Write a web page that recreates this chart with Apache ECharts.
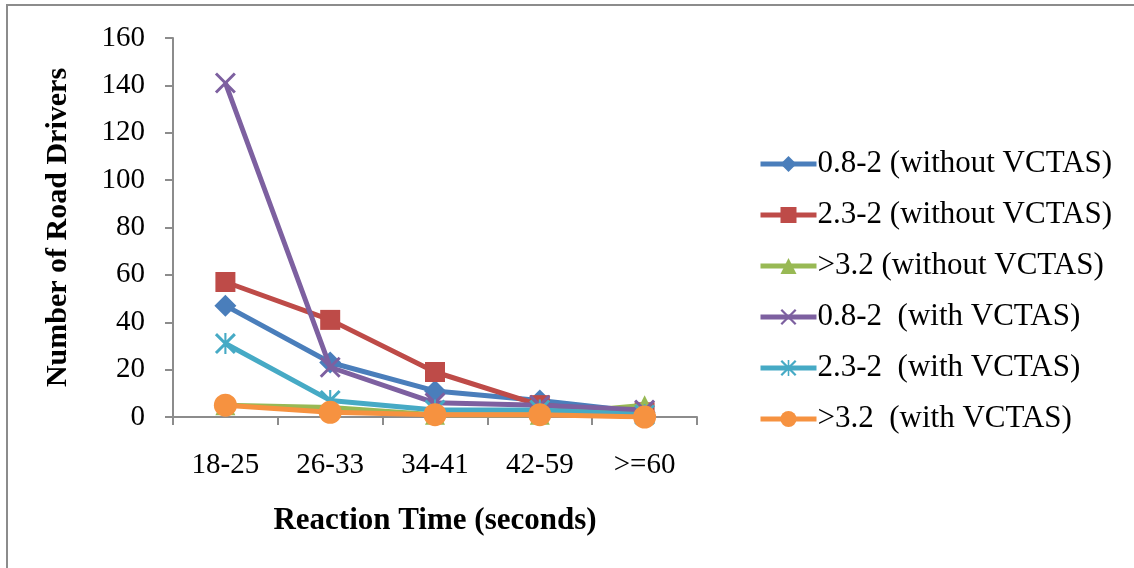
<!DOCTYPE html>
<html>
<head>
<meta charset="utf-8">
<script src="https://cdn.jsdelivr.net/npm/echarts@6/dist/echarts.min.js"></script>
<style>
  html, body { margin: 0; padding: 0; background: #fff; }
  #main { width: 1134px; height: 568px; }
</style>
</head>
<body>
<div id="main"></div>
<script>
  var categories = ['18-25', '26-33', '34-41', '42-59', '>=60'];
  var seriesNames = [
    '0.8-2 (without VCTAS)',
    '2.3-2 (without VCTAS)',
    '>3.2 (without VCTAS)',
    '0.8-2  (with VCTAS)',
    '2.3-2  (with VCTAS)',
    '>3.2  (with VCTAS)'
  ];
  var blueWithout = [47, 23, 11, 7, 2];
  var redWithout = [57, 41, 19, 5, 2];
  var greenWithout = [5, 4, 1, 1, 5];
  var purpleWith = [141, 21, 6, 5, 3];
  var tealWith = [31, 7, 3, 3, 1];
  var orangeWith = [5, 2, 1, 1, 0];
  var yTicks = [0, 20, 40, 60, 80, 100, 120, 140, 160];

  // x and asterisk markers as thin filled strokes
  var xPath = 'path://M0,1 L1,0 L10,9 L9,10 Z M9,0 L10,1 L1,10 L0,9 Z';
  var starPath = 'path://M0,1 L1,0 L10,9 L9,10 Z M9,0 L10,1 L1,10 L0,9 Z M4.5,0 L5.5,0 L5.5,10 L4.5,10 Z';

  var colors = ['#4A7EBB', '#BE4B48', '#98B954', '#7D60A0', '#46AAC5', '#F69240'];
  var symbols = ['diamond', 'rect', 'triangle', xPath, starPath, 'circle'];
  var sizes = [22, 20, 20, 21, 21, 23];
  var dataList = [blueWithout, redWithout, greenWithout, purpleWith, tealWith, orangeWith];

  var myChart = echarts.init(document.getElementById('main'));

  var series = [];
  for (var i = 0; i < dataList.length; i++) {
    series.push({
      name: seriesNames[i],
      type: 'line',
      data: dataList[i],
      symbol: symbols[i],
      symbolSize: sizes[i],
      showAllSymbol: true,
      lineStyle: { color: colors[i], width: 5 },
      itemStyle: { color: colors[i], borderWidth: 0 },
      z: 2 + i
    });
  }

  var option = {
    animation: false,
    textStyle: { fontFamily: 'Liberation Serif' },
    graphic: [{
      type: 'rect',
      shape: { x: 7, y: 5, width: 1140, height: 570 },
      style: { fill: 'none', stroke: '#8c8c8c', lineWidth: 2 }
    }],
    grid: { left: 173, top: 38, right: 437, bottom: 151 },
    legend: {
      orient: 'vertical',
      left: 753,
      top: 143,
      itemWidth: 56,
      itemHeight: 20,
      itemGap: 19,
      data: seriesNames,
      lineStyle: { width: 5 },
      textStyle: {
        fontFamily: 'Liberation Serif', fontSize: 31, lineHeight: 32,
        color: '#000', padding: [0, 0, 0, -4]
      }
    },
    xAxis: {
      type: 'category',
      data: categories,
      boundaryGap: true,
      name: 'Reaction Time (seconds)',
      nameLocation: 'middle',
      nameGap: 88,
      nameTextStyle: { fontFamily: 'Liberation Serif', fontSize: 31, fontWeight: 'bold', color: '#000' },
      axisLine: { lineStyle: { color: '#8c8c8c', width: 2 } },
      axisTick: { show: true, length: 8, inside: false, alignWithLabel: false, lineStyle: { color: '#8c8c8c', width: 2 } },
      axisLabel: { fontFamily: 'Liberation Serif', fontSize: 29, color: '#000', margin: 34 }
    },
    yAxis: {
      type: 'value',
      min: 0,
      max: 160,
      interval: 20,
      name: 'Number of Road Drivers',
      nameLocation: 'middle',
      nameGap: 100,
      nameTextStyle: { fontFamily: 'Liberation Serif', fontSize: 30, fontWeight: 'bold', color: '#000' },
      splitLine: { show: false },
      axisLine: { show: true, lineStyle: { color: '#8c8c8c', width: 2 } },
      axisTick: { show: true, length: 8, lineStyle: { color: '#8c8c8c', width: 2 } },
      axisLabel: {
        fontFamily: 'Liberation Serif', fontSize: 29, color: '#000', margin: 28,
        formatter: function (v) { return yTicks.indexOf(v) >= 0 ? String(v) : ''; }
      }
    },
    series: series
  };

  myChart.setOption(option);
</script>
</body>
</html>
